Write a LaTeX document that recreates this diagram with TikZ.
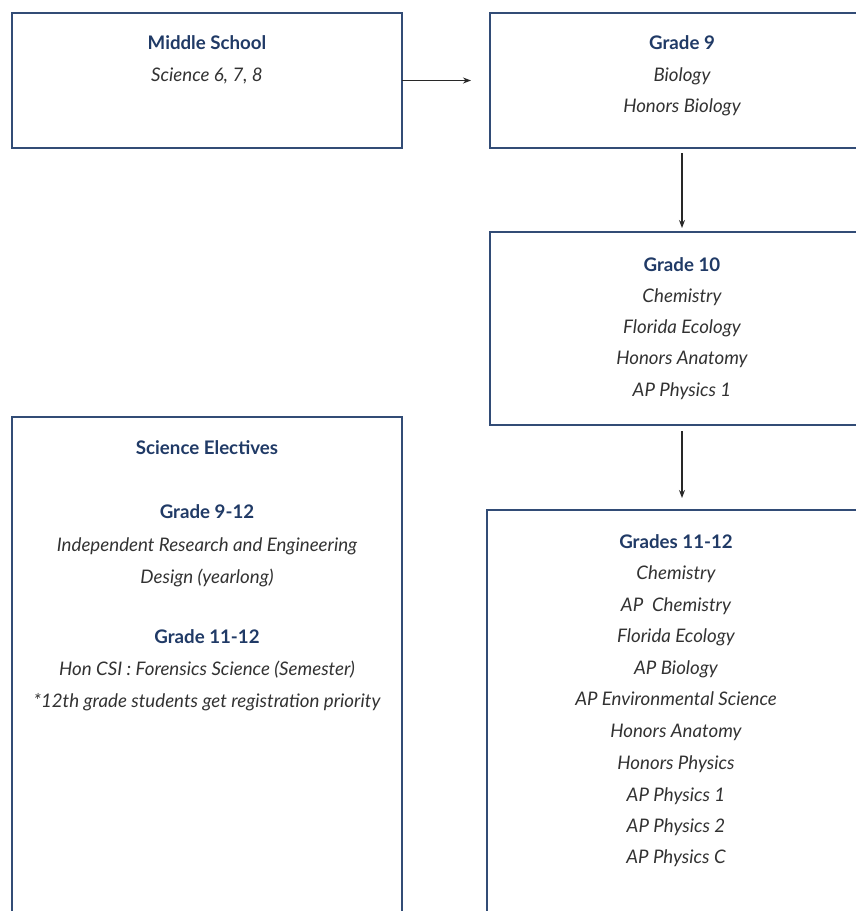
\documentclass[tikz,border=0pt]{standalone}
\usepackage{fontspec}
\setmainfont{Lato}
\usetikzlibrary{arrows.meta}
\definecolor{boxc}{RGB}{50,76,118}
\definecolor{titlec}{RGB}{32,58,102}
\definecolor{itemc}{RGB}{50,50,50}
\definecolor{arrc}{RGB}{40,40,40}
\begin{document}
\begin{tikzpicture}[x=1pt,y=-1pt,
  box/.style={draw=boxc, line width=1.8pt, inner sep=0pt, outer sep=0pt},
  txt/.style={inner sep=0pt, text height=13pt, text depth=0pt},
  ttl/.style={txt, font=\fontsize{18.7}{22}\selectfont\bfseries, text=titlec},
  itm/.style={txt, font=\fontsize{18.7}{22}\selectfont\itshape, text=itemc},
  arr/.style={draw=arrc, line width=1.2pt, -{Stealth[length=8pt,width=6pt]}}]
\useasboundingbox (0,0) rectangle (856,911);
\clip (0,0) rectangle (856,911);
% boxes
\node[box, minimum width=390pt, minimum height=135pt] (ms) at (207,80.5) {};
\node[box, minimum width=384pt, minimum height=135pt] (g9) at (682,80.5) {};
\node[box, minimum width=384pt, minimum height=193pt] (g10) at (682,328.5) {};
\node[box, minimum width=378pt, minimum height=450pt] (g11) at (676,735) {};
\node[box, minimum width=390pt, minimum height=543pt] (el) at (207,688.5) {};
% texts
\node[ttl] (ms1) at (207,43) {Middle School};
\node[itm] (ms2) at (207,75) {Science 6, 7, 8};
\node[ttl] (g91) at (682,43) {Grade 9};
\node[itm] (g92) at (682,75) {Biology};
\node[itm] (g93) at (682,106) {Honors Biology};
\node[ttl] (g101) at (682,265) {Grade 10};
\node[itm] (g102) at (682,296) {Chemistry};
\node[itm] (g103) at (682,327) {Florida Ecology};
\node[itm] (g104) at (682,358) {Honors Anatomy};
\node[itm] (g105) at (682,390) {AP Physics 1};
\node[ttl] (el1) at (207,448) {Science Electives};
\node[ttl] (el2) at (207,512) {Grade 9-12};
\node[itm] (el3) at (207,545) {Independent Research and Engineering};
\node[itm] (el4) at (207,577) {Design (yearlong)};
\node[ttl] (el5) at (207,637) {Grade 11-12};
\node[itm] (el6) at (207,669) {Hon CSI : Forensics Science (Semester)};
\node[itm] (el7) at (207,701) {*12th grade students get registration priority};
\node[ttl] (g111) at (676,542) {Grades 11-12};
\node[itm] (g112) at (676,573) {Chemistry};
\node[itm] (g113) at (676,605) {AP\ \ Chemistry};
\node[itm] (g114) at (676,636) {Florida Ecology};
\node[itm] (g115) at (676,668) {AP Biology};
\node[itm] (g116) at (676,699) {AP Environmental Science};
\node[itm] (g117) at (676,731) {Honors Anatomy};
\node[itm] (g118) at (676,763) {Honors Physics};
\node[itm] (g119) at (676,795) {AP Physics 1};
\node[itm] (g1110) at (676,826) {AP Physics 2};
\node[itm] (g1111) at (676,857) {AP Physics C};
% arrows
\draw[arr, shorten >=19pt] (ms.east) -- (g9.west);
\draw[arr, shorten <=5pt, shorten >=4pt] (g9.south) -- (g10.north);
\draw[arr, shorten <=6pt, shorten >=12pt] (g10.south) -- (g10.south |- g11.north);
\end{tikzpicture}
\end{document}
